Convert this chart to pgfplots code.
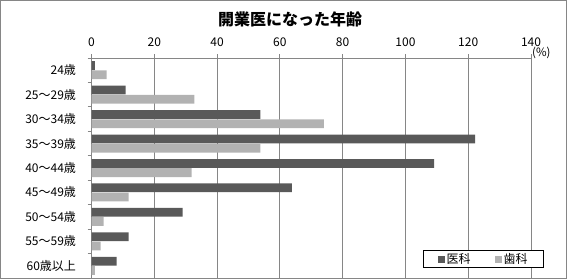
\documentclass[border=0pt]{standalone}
\usepackage{pgfplots}
\pgfplotsset{compat=1.18}
\usepackage{fontspec}
\setmainfont{Noto Sans CJK JP}
\definecolor{dark}{RGB}{89,89,89}
\definecolor{light}{RGB}{178,178,178}
\definecolor{gridc}{RGB}{134,134,134}
\begin{document}
\begin{tikzpicture}[x=1pt,y=1pt]
\path[use as bounding box] (0,0) rectangle (567,-279);
\draw[gridc,line width=0.8pt] (0.5,-0.5) rectangle (566.5,-278.5);
\node[font=\fontsize{16}{18}\selectfont\bfseries] at (290,-19) {開業医になった年齢};
\node[font=\fontsize{11.5}{12}\selectfont,anchor=base west,inner sep=0pt] at (532,-56.5) {(\%)};
\begin{axis}[
  at={(91.5pt,-58pt)}, anchor=north west,
  width=439.5pt, height=220pt, scale only axis,
  xmin=0, xmax=140, ymin=-0.5, ymax=8.5,
  y dir=reverse,
  axis x line*=top, axis y line*=left,
  axis line style={gridc, line width=0.8pt},
  xtick={0,20,...,140},
  xmajorgrids, grid style={gridc, line width=0.8pt},
  tick align=outside,
  major tick length=4pt,
  x tick style={gridc, line width=0.8pt},
  ytick={0,...,8},
  yticklabels={24歳,25～29歳,30～34歳,35～39歳,40～44歳,45～49歳,50～54歳,55～59歳,60歳以上},
  y tick style={draw=none},
  minor ytick={-0.5,0.5,1.5,2.5,3.5,4.5,5.5,6.5,7.5},
  minor y tick style={gridc, line width=0.8pt, draw=gridc},
  minor tick length=4pt,
  /pgf/number format/assume math mode=true,
  xticklabel style={font=\fontsize{12}{13}\selectfont, yshift=4pt},
  yticklabel style={font=\fontsize{12}{13}\selectfont, xshift=-8pt},
  xbar, bar width=8.8pt,
  legend style={at={(1.0296,0.045)}, anchor=south east, draw=black, line width=0.6pt,
    font=\fontsize{12}{13}\selectfont, legend columns=2,
    inner xsep=14pt, inner ysep=1pt,
    /tikz/every even column/.append style={column sep=22pt}},
  legend image code/.code={\fill[#1] (1pt,-3.5pt) rectangle (8pt,3.5pt);},
]
\addplot[fill=dark, draw=none, bar shift=4.6pt] coordinates {
(1.1,0) (10.9,1) (53.8,2) (122.2,3) (109.1,4) (63.8,5) (29,6) (11.8,7) (8,8)};
\addplot[fill=light, draw=none, bar shift=-4.6pt] coordinates {
(4.8,0) (32.8,1) (74,2) (53.8,3) (31.9,4) (11.8,5) (3.9,6) (2.9,7) (1.1,8)};
\legend{医科,歯科}
\end{axis}
\end{tikzpicture}
\end{document}
